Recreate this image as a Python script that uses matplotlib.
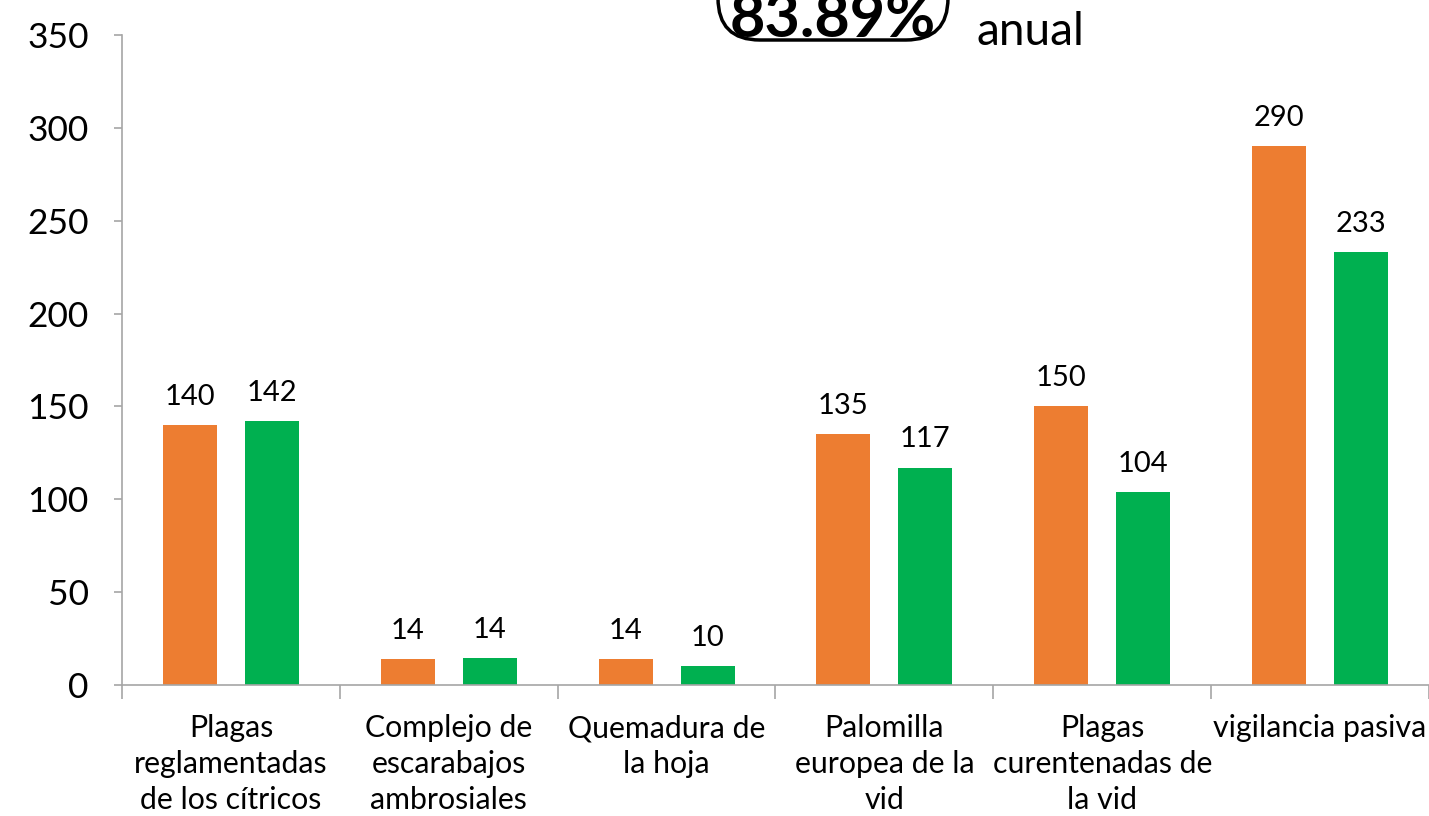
import matplotlib
matplotlib.use("Agg")
import matplotlib.pyplot as plt
from matplotlib.patches import FancyBboxPatch
import numpy as np

categories = ["Plagas\nreglamentadas\nde los cítricos",
              "Complejo de\nescarabajos\nambrosiales",
              "Quemadura de\nla hoja",
              "Palomilla\neuropea de la\nvid",
              "Plagas\ncurentenadas de\nla vid",
              "vigilancia pasiva"]
serie_a = [140, 14, 14, 135, 150, 290]
serie_b = [142, 14.5, 10, 117, 104, 233]
labels_a = ["140", "14", "14", "135", "150", "290"]
labels_b = ["142", "14", "10", "117", "104", "233"]
yticks = [0, 50, 100, 150, 200, 250, 300, 350]
badge_text = "83.89%"
side_text = "anual"

plt.rcParams['font.family'] = ['Lato', 'DejaVu Sans']

W, H = 1429, 816
fig = plt.figure(figsize=(W/100, H/100), dpi=100)
ax = fig.add_axes([122/W, 1-685/H, 1-122/W, (685-35)/H])

orange = "#ED7D31"
green = "#00B050"
x = np.arange(len(categories))
off = 0.188
w = 0.248
ax.bar(x - off, serie_a, w, color=orange)
ax.bar(x + off, serie_b, w, color=green)
for xi, v, t in zip(x, serie_a, labels_a):
    ax.annotate(t, (xi - off, v), xytext=(0, 11), textcoords="offset points",
                ha="center", va="bottom", fontsize=21)
for xi, v, t in zip(x, serie_b, labels_b):
    ax.annotate(t, (xi + off, v), xytext=(0, 11), textcoords="offset points",
                ha="center", va="bottom", fontsize=21)

ax.set_xlim(-0.5, len(categories) - 0.5)
ax.set_ylim(0, 350)
ax.set_yticks(yticks)
ax.set_yticklabels([str(t) for t in yticks], fontsize=25.5)
ax.set_xticks(x)
ax.set_xticklabels(categories, fontsize=21.8, linespacing=1.35)
ax.tick_params(axis='x', length=0, pad=21)
ax.set_xticks(np.arange(-0.5, len(categories) + 0.5, 1), minor=True)
ax.tick_params(axis='x', which='minor', length=10, color="#A6A6A6", width=1.2)
ax.tick_params(axis='y', length=6, color="#A6A6A6", width=1.2, pad=18)
for s in ["top", "right"]:
    ax.spines[s].set_visible(False)
for s in ["left", "bottom"]:
    ax.spines[s].set_color("#A6A6A6")
    ax.spines[s].set_linewidth(1.2)

# overlay in pixel coordinates for the badge (cut by the top edge, as in the original)
ov = fig.add_axes([0, 0, 1, 1], facecolor="none")
ov.set_xlim(0, W)
ov.set_ylim(H, 0)
ov.axis("off")
box = FancyBboxPatch((718, -80), 230, 120,
                     boxstyle="round,pad=0,rounding_size=42",
                     facecolor="white", edgecolor="black", linewidth=2.5,
                     clip_on=False)
ov.add_patch(box)
ov.text(833, 37, badge_text, ha="center", va="baseline",
        fontsize=44, fontweight="bold", clip_on=False)
ov.text(977, 45, side_text, ha="left", va="baseline", fontsize=33)

fig.savefig("out.png", dpi=100)
